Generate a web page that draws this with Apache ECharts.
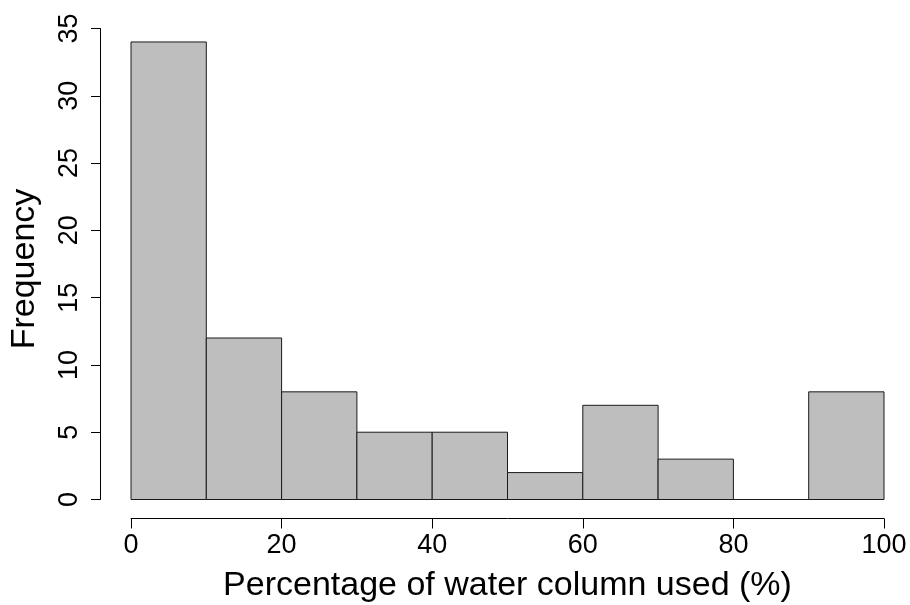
<!DOCTYPE html>
<html>
<head>
<meta charset="utf-8">
<script src="https://cdn.jsdelivr.net/npm/echarts@6/dist/echarts.min.js"></script>
<style>
    html, body { margin: 0; padding: 0; background: #fff; }
    #main { width: 910px; height: 605px; }
</style>
</head>
<body>
<div id="main"></div>
<script>
// histogram bins (percent of water column) and their counts
var binStart = [0, 10, 20, 30, 40, 50, 60, 70, 80, 90];
var binEnd = [10, 20, 30, 40, 50, 60, 70, 80, 90, 100];
var counts = [34, 12, 8, 5, 5, 2, 7, 3, 0, 8];
var xTicks = [0, 20, 40, 60, 80, 100];
var yTicks = [0, 5, 10, 15, 20, 25, 30, 35];

var _font = 'Liberation Sans, Arial, sans-serif';

var _data = [];
for (var i = 0; i < counts.length; i++) {
    _data.push([binStart[i], binEnd[i], counts[i]]);
}

var chart = echarts.init(document.getElementById('main'));

var option = {
    backgroundColor: '#fff',
    animation: false,
    grid: {
        left: 131,
        right: 26,
        top: 28.5,
        bottom: 105.5,
        outerBoundsMode: 'none'
    },
    xAxis: {
        type: 'value',
        min: xTicks[0],
        max: xTicks[xTicks.length - 1],
        interval: 20,
        offset: 19,
        name: 'Percentage of water column used (%)',
        nameLocation: 'middle',
        nameGap: 50,
        nameTextStyle: { fontFamily: _font, fontSize: 34, color: '#000' },
        // R style: axis sits apart from the bars
        axisLine: { show: true, onZero: false, lineStyle: { color: '#000', width: 1 } },
        axisTick: { show: true, length: 10, lineStyle: { color: '#000', width: 1 } },
        axisLabel: { margin: 14, fontFamily: _font, fontSize: 27, color: '#000' },
        splitLine: { show: false }
    },
    yAxis: {
        type: 'value',
        min: yTicks[0],
        max: yTicks[yTicks.length - 1],
        interval: 5,
        offset: 31,
        name: 'Frequency',
        nameLocation: 'middle',
        nameRotate: 90,
        nameGap: 58,
        nameTextStyle: { fontFamily: _font, fontSize: 34, color: '#000', padding: [0, 10, 0, 0] },
        axisLine: { show: true, onZero: false, lineStyle: { color: '#000', width: 1 } },
        axisTick: { show: true, length: 9, lineStyle: { color: '#000', width: 1 } },
        axisLabel: { margin: 17, rotate: 90, fontFamily: _font, fontSize: 27, color: '#000' },
        splitLine: { show: false }
    },
    series: [{
        type: 'custom',
        data: _data,
        encode: { x: [0, 1], y: 2 },
        renderItem: function(params, api) {
            var p0 = api.coord([api.value(0), 0]);
            var p1 = api.coord([api.value(1), api.value(2)]);
            return {
                type: 'rect',
                shape: {
                    x: p0[0],
                    y: p1[1],
                    width: p1[0] - p0[0],
                    height: p0[1] - p1[1]
                },
                style: { fill: '#bebebe', stroke: '#1a1a1a', lineWidth: 1 }
            };
        }
    }]
};

chart.setOption(option);
</script>
</body>
</html>
